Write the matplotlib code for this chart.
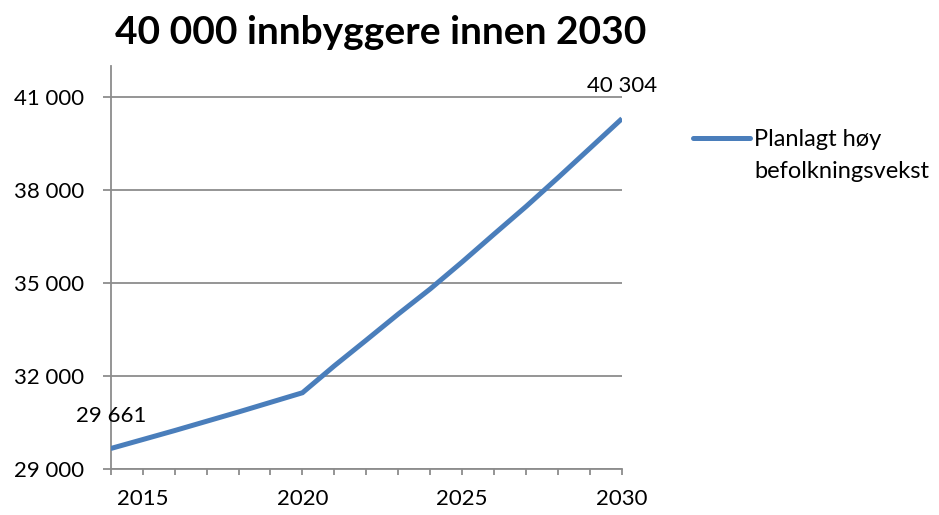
import numpy as np
import matplotlib.pyplot as plt
from matplotlib.lines import Line2D
from matplotlib.ticker import FuncFormatter, FixedLocator

plt.rcParams['font.family'] = ['Lato', 'DejaVu Sans']

# Population forecast, one value per year
years = list(range(2014, 2031))
population = [29661, 29950, 30240, 30540, 30840, 31150, 31460,
              32330, 33160, 34000, 34810, 35680, 36580, 37470,
              38400, 39350, 40304]
series_lines = ["Planlagt høy", "befolkningsvekst"]
title = "40 000 innbyggere innen 2030"
y_ticks = [29000, 32000, 35000, 38000, 41000]
x_labels = [2015, 2020, 2025, 2030]

line_color = '#4A7EBB'
grid_color = '#8C8C8C'


def fmt_thousands(v, pos=None):
    return f"{int(round(v)):,}".replace(',', ' ')


fig = plt.figure(figsize=(9.39, 5.15), dpi=100)
ax = fig.add_axes([0.1179, 0.0893, 0.5445, 0.7825])

ax.plot(years, population, color=line_color, linewidth=3.6,
        solid_capstyle='butt', solid_joinstyle='miter', zorder=3)

# data labels on first and last point
for i in (0, -1):
    ax.annotate(fmt_thousands(population[i]), (years[i], population[i]),
                xytext=(0, 33), textcoords='offset pixels',
                ha='center', va='center', fontsize=16)

ax.set_xlim(years[0], years[-1])
ax.set_ylim(29000, 42000)

ax.yaxis.set_major_locator(FixedLocator(y_ticks))
ax.yaxis.set_major_formatter(FuncFormatter(fmt_thousands))
ax.xaxis.set_major_locator(FixedLocator(x_labels))
ax.xaxis.set_minor_locator(FixedLocator(years))

ax.grid(axis='y', color=grid_color, linewidth=1.3, zorder=1)
ax.set_axisbelow(True)

for side in ('top', 'right'):
    ax.spines[side].set_visible(False)
for side in ('left', 'bottom'):
    ax.spines[side].set_color(grid_color)
    ax.spines[side].set_linewidth(1.3)

ax.tick_params(axis='y', which='major', length=5.8, width=1.3, color=grid_color,
               labelsize=16, pad=13)
ax.tick_params(axis='x', which='both', length=4.5, width=1.3, color=grid_color,
               labelsize=16, pad=10)

fig.text(0.405, 0.936, title, ha='center', va='center',
         fontsize=28, fontweight='bold')

# legend: line sample plus two-line label
fig.add_artist(Line2D([693 / 939, 750 / 939], [1 - 138 / 515] * 2,
                      color=line_color, linewidth=3.6, solid_capstyle='round'))
fig.text(754 / 939, 1 - 146 / 515, series_lines[0], ha='left', va='baseline',
         fontsize=17)
fig.text(754 / 939, 1 - 178 / 515, series_lines[1], ha='left', va='baseline',
         fontsize=17)

fig.savefig('out.png', dpi=100)
